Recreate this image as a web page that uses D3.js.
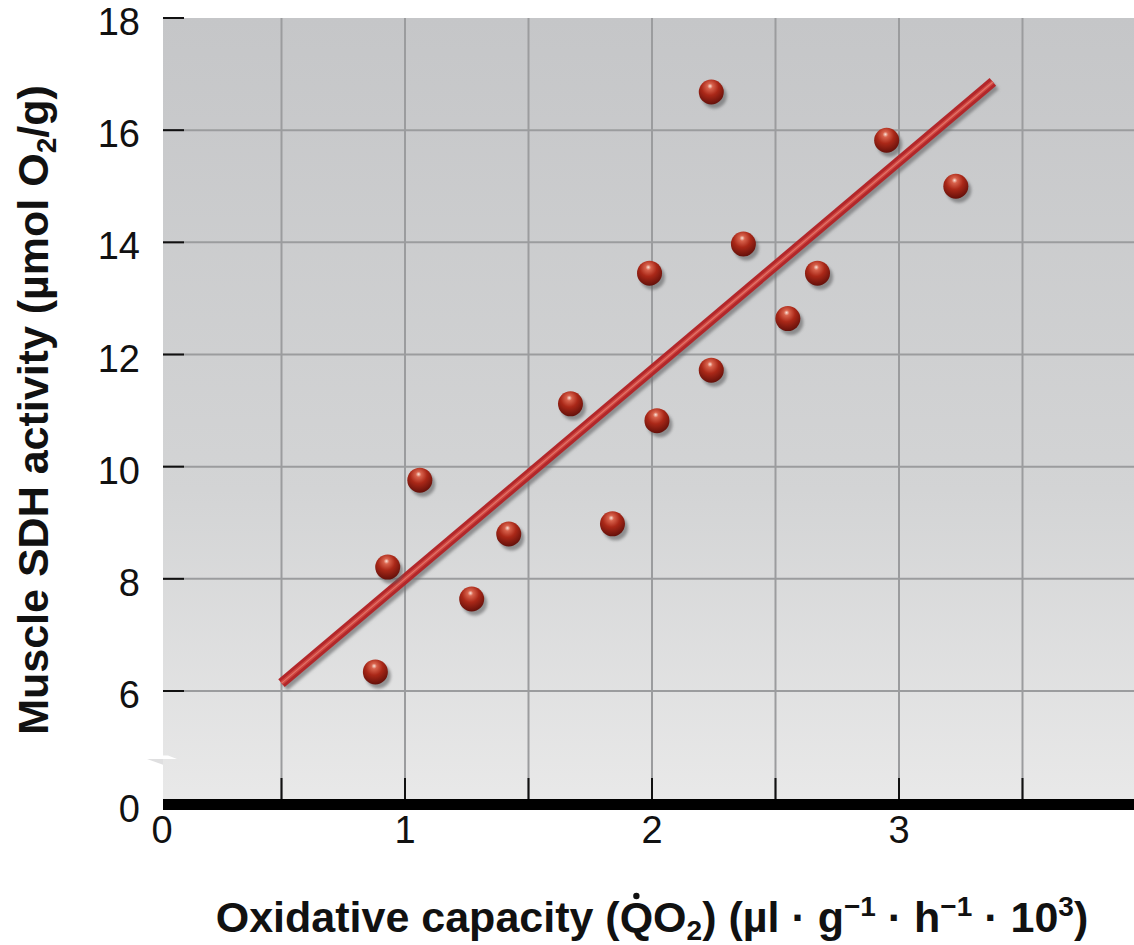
<!DOCTYPE html>
<html lang="en">
<head>
  <meta charset="UTF-8">
  <title>Muscle SDH activity vs oxidative capacity</title>
  <style>
    body { margin: 0; background: #fff; }
    svg { display: block; }
    text { font-family: "Liberation Sans", Arial, sans-serif; fill: #111; }
  </style>
  <script src="https://d3js.org/d3.v7.min.js"></script>
</head>
<body>
<svg width="1134" height="945"></svg>
<script>
  // values
  const capacity = [0.88, 0.93, 1.06, 1.27, 1.42, 1.67, 1.84, 1.99, 2.02, 2.24, 2.24, 2.37, 2.55, 2.67, 2.95, 3.23];
  const sdh      = [6.34, 8.21, 9.76, 7.64, 8.80, 11.12, 8.98, 13.45, 10.82, 16.68, 11.72, 13.97, 12.64, 13.45, 15.82, 15.0];

  const fitX = [0.5, 3.38];
  const fitY = [6.14, 16.86];

  const yTicks = [0, 6, 8, 10, 12, 14, 16, 18];
  const yGrid  = [6, 8, 10, 12, 14, 16];
  const xTicks = [0, 1, 2, 3];
  const xGrid  = [0.5, 1, 1.5, 2, 2.5, 3, 3.5];

  const svg = d3.select("svg");
  const W = 1134;

  // broken y axis: 0 sits just below 6
  const x = d3.scaleLinear().domain([0, 4]).range([158, 1146]);
  const y = d3.scaleLinear().domain([0, 6, 18]).range([805, 691, 18]);

  const plotLeft = 163, plotTop = y(18), plotBottom = y(0);

  const defs = svg.append("defs");
  const bg = defs.append("linearGradient").attr("id", "bg")
    .attr("x1", 0).attr("y1", 0).attr("x2", 0).attr("y2", 1);
  bg.append("stop").attr("offset", "0%").attr("stop-color", "#c5c6c8");
  bg.append("stop").attr("offset", "60%").attr("stop-color", "#d3d4d5");
  bg.append("stop").attr("offset", "100%").attr("stop-color", "#e9e9e9");

  const ball = defs.append("radialGradient").attr("id", "ball")
    .attr("cx", "45%").attr("cy", "32%").attr("r", "68%").attr("fx", "45%").attr("fy", "26%");
  ball.append("stop").attr("offset", "0%").attr("stop-color", "#fbe4d8");
  ball.append("stop").attr("offset", "16%").attr("stop-color", "#d8624c");
  ball.append("stop").attr("offset", "50%").attr("stop-color", "#aa2818");
  ball.append("stop").attr("offset", "100%").attr("stop-color", "#64100a");

  const blur = defs.append("filter").attr("id", "blur")
    .attr("x", "-50%").attr("y", "-50%").attr("width", "200%").attr("height", "200%");
  blur.append("feGaussianBlur").attr("stdDeviation", 1.6);

  // plot background
  svg.append("rect")
    .attr("x", plotLeft).attr("y", plotTop)
    .attr("width", W - plotLeft).attr("height", plotBottom - plotTop)
    .attr("fill", "url(#bg)");

  // break mark on the left edge
  svg.append("path")
    .attr("d", `M${plotLeft},${y(2.6)} L${plotLeft + 5},${y(2.6)} L${plotLeft + 14},${y(2.42)} L${plotLeft},${y(2.42)} Z`)
    .attr("fill", "#fff");
  svg.append("path")
    .attr("d", `M${plotLeft - 16},${y(2.42)} L${plotLeft},${y(2.42)} L${plotLeft},${y(2.12)} Z`)
    .attr("fill", "#dfdfe0");

  // grid
  svg.append("g").selectAll("line")
    .data(yGrid).join("line")
      .attr("x1", plotLeft).attr("x2", W)
      .attr("y1", d => y(d)).attr("y2", d => y(d))
      .attr("stroke", "#9b9c9e").attr("stroke-width", 2);

  svg.append("g").selectAll("line")
    .data(xGrid).join("line")
      .attr("x1", d => x(d)).attr("x2", d => x(d))
      .attr("y1", plotTop).attr("y2", plotBottom)
      .attr("stroke", "#9b9c9e").attr("stroke-width", 2);

  // inner ticks
  svg.append("g").selectAll("line")
    .data(yTicks.filter(d => d > 0)).join("line")
      .attr("x1", plotLeft).attr("x2", plotLeft + 21)
      .attr("y1", d => y(d)).attr("y2", d => y(d))
      .attr("stroke", "#111").attr("stroke-width", 2);

  svg.append("g").selectAll("line")
    .data(xGrid).join("line")
      .attr("x1", d => x(d)).attr("x2", d => x(d))
      .attr("y1", plotBottom - 27).attr("y2", plotBottom)
      .attr("stroke", "#111").attr("stroke-width", 2);

  // heavy baseline
  svg.append("rect")
    .attr("x", plotLeft).attr("y", plotBottom - 6)
    .attr("width", W - plotLeft).attr("height", 11)
    .attr("fill", "#000");

  // tick labels (they sit a little below their ticks in the original)
  svg.append("g").selectAll("text")
    .data(yTicks).join("text")
      .attr("x", 140).attr("y", d => y(d) + 17)
      .attr("text-anchor", "end")
      .style("font-size", "38px")
      .text(d => d);

  svg.append("g").selectAll("text")
    .data(xTicks).join("text")
      .attr("x", d => x(d) + (d === 0 ? 4 : 0)).attr("y", 843)
      .attr("text-anchor", "middle")
      .style("font-size", "38px")
      .text(d => d);

  // regression line with its shadow
  const fit = fitX.map((v, i) => [x(v), y(fitY[i])]);
  const line = d3.line();
  svg.append("path").attr("d", line(fit))
    .attr("transform", "translate(3,4)")
    .attr("stroke", "#6f7072").attr("stroke-opacity", 0.7)
    .attr("stroke-width", 9).attr("fill", "none").attr("filter", "url(#blur)");
  svg.append("path").attr("d", line(fit))
    .attr("stroke", "#b3272a").attr("stroke-width", 10).attr("fill", "none");
  svg.append("path").attr("d", line(fit))
    .attr("stroke", "#cf4640").attr("stroke-width", 4).attr("fill", "none");
  svg.append("path").attr("d", line(fit))
    .attr("stroke", "#e2736a").attr("stroke-width", 1.2).attr("fill", "none");

  // points
  const pts = capacity.map((v, i) => ({ cx: x(v), cy: y(sdh[i]) }));
  const pg = svg.append("g");
  pg.selectAll(".shadow")
    .data(pts).join("circle")
      .attr("class", "shadow")
      .attr("cx", d => d.cx + 3).attr("cy", d => d.cy + 4).attr("r", 12.5)
      .attr("fill", "#5e5f61").attr("opacity", 0.6).attr("filter", "url(#blur)");
  pg.selectAll(".ball")
    .data(pts).join("circle")
      .attr("class", "ball")
      .attr("cx", d => d.cx).attr("cy", d => d.cy).attr("r", 12.5)
      .attr("fill", "url(#ball)");

  // axis titles
  const xt = svg.append("text")
    .attr("x", 652).attr("y", 932)
    .attr("text-anchor", "middle")
    .style("font-size", "43px").style("font-weight", "bold");
  xt.append("tspan").text("Oxidative capacity (");
  xt.append("tspan").text("Q");
  xt.append("tspan").text("O");
  xt.append("tspan").attr("dy", 8).style("font-size", "28px").text("2");
  xt.append("tspan").attr("dy", -8).text(") (µl · g");
  xt.append("tspan").attr("dy", -16).style("font-size", "28px").text("−1");
  xt.append("tspan").attr("dy", 16).text(" · h");
  xt.append("tspan").attr("dy", -16).style("font-size", "28px").text("−1");
  xt.append("tspan").attr("dy", 16).text(" · 10");
  xt.append("tspan").attr("dy", -16).style("font-size", "28px").text("3");
  xt.append("tspan").attr("dy", 16).text(")");

  // dot over the Q
  const qi = xt.text().indexOf("Q");
  const qb = xt.node().getExtentOfChar(qi);
  svg.append("circle")
    .attr("cx", qb.x + qb.width / 2).attr("cy", qb.y + 3).attr("r", 3.2)
    .attr("fill", "#111");

  const yt = svg.append("text")
    .attr("transform", `translate(48,410) rotate(-90)`)
    .attr("text-anchor", "middle")
    .style("font-size", "43px").style("font-weight", "bold");
  yt.append("tspan").text("Muscle SDH activity (µmol O");
  yt.append("tspan").attr("dy", 8).style("font-size", "28px").text("2");
  yt.append("tspan").attr("dy", -8).text("/g)");
</script>
</body>
</html>
